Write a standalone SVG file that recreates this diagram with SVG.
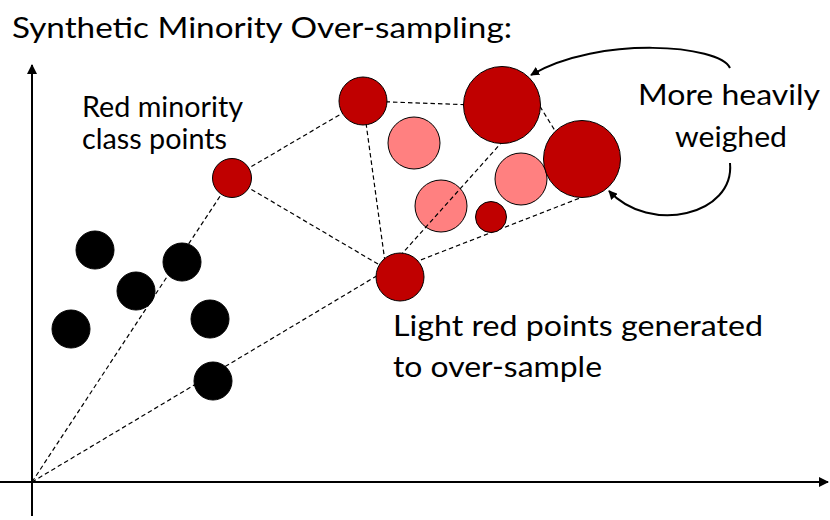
<svg xmlns="http://www.w3.org/2000/svg" width="830" height="520" viewBox="0 0 830 520">
<style>
.t{font-family:Lato,"Open Sans","Liberation Sans",sans-serif;font-size:29px;fill:#000}
.axis{stroke:#000;stroke-width:2;fill:none}
.dash{stroke:#000;stroke-width:1.2;stroke-dasharray:4.5,3;fill:none}
.curve{stroke:#000;stroke-width:2;fill:none}
.red{fill:#C00000;stroke:#000;stroke-width:1}
.light{fill:#FF8080;stroke:#000;stroke-width:1}
.black{fill:#000;stroke:#000;stroke-width:1}
</style>
<defs>
<marker id="ah" viewBox="0 0 10 10" refX="9" refY="5" markerWidth="5" markerHeight="5" orient="auto" markerUnits="strokeWidth">
<path d="M0,0 L10,5 L0,10 z" fill="#000"/>
</marker>
<marker id="ch" viewBox="0 0 10 10" refX="9" refY="5" markerWidth="4.5" markerHeight="4.5" orient="auto" markerUnits="strokeWidth">
<path d="M0,0 L10,5 L0,10 z" fill="#000"/>
</marker>
</defs>
<text class="t" x="12" y="38" textLength="500" lengthAdjust="spacingAndGlyphs">Synthetic Minority Over-sampling:</text>
<g id="axes">
<line class="axis" x1="32" y1="516" x2="32" y2="65" marker-end="url(#ah)"/>
<line class="axis" x1="0" y1="482" x2="828" y2="482" marker-end="url(#ah)"/>
</g>
<g id="light-points">
<circle id="l1" class="light" cx="414" cy="143" r="26"/>
<circle id="l2" class="light" cx="441" cy="206" r="26"/>
<circle id="l3" class="light" cx="521" cy="179" r="26"/>
</g>
<g id="connectors">
<line class="dash" x1="32" y1="482" x2="232" y2="178"/>
<line class="dash" x1="32" y1="482" x2="395" y2="265"/>
<line class="dash" x1="232" y1="178" x2="363" y2="101"/>
<line class="dash" x1="232" y1="178" x2="400" y2="277"/>
<line class="dash" x1="363" y1="101" x2="385" y2="262"/>
<line class="dash" x1="363" y1="101" x2="502" y2="106"/>
<line class="dash" x1="536" y1="100" x2="562" y2="142"/>
<line class="dash" x1="400" y1="256" x2="502" y2="142"/>
<line class="dash" x1="400" y1="268" x2="580" y2="198"/>
<path class="curve" d="M730,68 C720,45 600,35 531,75" marker-end="url(#ch)"/>
<path class="curve" d="M730,163 C735,215 650,235 609,191" marker-end="url(#ch)"/>
</g>
<g id="black-points">
<circle class="black" cx="95" cy="250" r="19"/>
<circle class="black" cx="182" cy="262" r="19"/>
<circle class="black" cx="136" cy="291" r="19"/>
<circle class="black" cx="71" cy="329" r="19"/>
<circle class="black" cx="210" cy="319" r="19"/>
<circle class="black" cx="213" cy="381" r="19"/>
</g>
<g id="red-points">
<circle id="a" class="red" cx="232" cy="178" r="19.5"/>
<circle id="b" class="red" cx="363" cy="101" r="24"/>
<circle id="c" class="red" cx="502" cy="105" r="38.5"/>
<circle id="d" class="red" cx="582" cy="159" r="38.5"/>
<circle id="e" class="red" cx="491" cy="217" r="15.5"/>
<circle id="f" class="red" cx="400" cy="277" r="24"/>
</g>
<g id="label-red">
<text class="t" x="82" y="117" textLength="161" lengthAdjust="spacingAndGlyphs">Red minority</text>
<text class="t" x="82" y="149" textLength="145" lengthAdjust="spacingAndGlyphs">class points</text>
</g>
<g id="label-weighed">
<text class="t" x="638" y="105" textLength="182" lengthAdjust="spacingAndGlyphs">More heavily</text>
<text class="t" x="675" y="147" textLength="112" lengthAdjust="spacingAndGlyphs">weighed</text>
</g>
<g id="label-light">
<text class="t" x="393" y="336" textLength="370" lengthAdjust="spacingAndGlyphs">Light red points generated</text>
<text class="t" x="393" y="377" textLength="209" lengthAdjust="spacingAndGlyphs">to over-sample</text>
</g>
</svg>
